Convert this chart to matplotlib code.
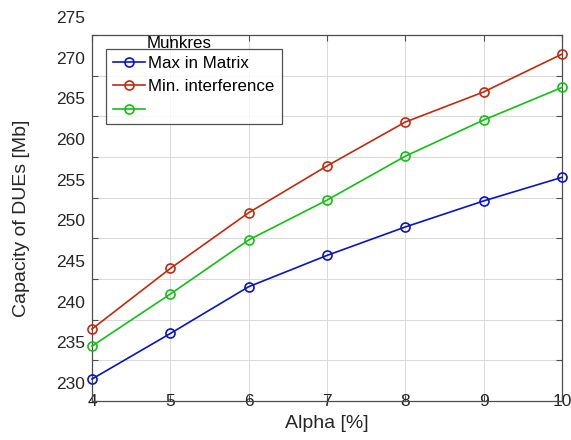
import matplotlib
matplotlib.use("Agg")
import matplotlib.pyplot as plt
from matplotlib.lines import Line2D
from matplotlib.transforms import ScaledTranslation

plt.rcParams['font.family'] = ['Liberation Sans', 'DejaVu Sans']

alpha = [4, 5, 6, 7, 8, 9, 10]
max_in_matrix = [232.7, 238.3, 244.05, 247.9, 251.4, 254.6, 257.5]
min_interference = [238.85, 246.3, 253.15, 258.9, 264.3, 268.0, 272.65]
third_series = [236.75, 243.15, 249.8, 254.7, 260.1, 264.55, 268.55]

x_ticks = [4, 5, 6, 7, 8, 9, 10]
y_ticks = [230, 235, 240, 245, 250, 255, 260, 265, 270, 275]
series_labels = ['Max in Matrix', 'Min. interference', ' ']
legend_title = 'Munkres'
colors = ['#0a14c0', '#c02a0e', '#14bf14']

fig = plt.figure(figsize=(5.71, 4.40), dpi=100)
ax = fig.add_axes([92/571, 1-401/440, 470/571, 366/440])

txt = '#262626'
for ys, c in zip([max_in_matrix, min_interference, third_series], colors):
    ax.plot(alpha, ys, color=c, lw=1.2, marker='o', ms=6.5,
            mfc='none', mec=c, mew=1.2, clip_on=False, zorder=3)

ax.set_xlim(4, 10)
ax.set_ylim(230, 275)
ax.set_xticks(x_ticks)
ax.set_yticks(y_ticks)
ax.grid(True, color='#d9d9d9', lw=0.7)
ax.set_axisbelow(True)
for s in ax.spines.values():
    s.set_color('#4d4d4d')
    s.set_linewidth(0.9)
ax.tick_params(direction='in', length=4, width=0.8, color='#4d4d4d',
               top=True, right=True, labelsize=12.5, labelcolor=txt)
ax.tick_params(axis='y', pad=5)
ax.tick_params(axis='x', pad=0)

fig.canvas.draw()
up = ScaledTranslation(0, 18/100, fig.dpi_scale_trans)
for lab in ax.get_yticklabels():
    lab.set_transform(lab.get_transform() + up)
for lab in ax.get_xticklabels():
    lab.set_verticalalignment('center')

ax.set_xlabel('Alpha [%]', fontsize=14, color=txt)
ax.set_ylabel('Capacity of DUEs [Mb]', fontsize=14, color=txt)
ax.yaxis.set_label_coords(-0.132, 0.5)
ax.xaxis.set_label_coords(0.5, -0.038)

handles = [Line2D([], [], color=c, lw=1.2, marker='o', ms=6.5, mfc='none', mec=c, mew=1.2)
           for c in colors]
leg = ax.legend(handles, series_labels, loc='upper left',
                bbox_to_anchor=(106/571, 1-49/440), bbox_transform=fig.transFigure,
                borderaxespad=0, fontsize=12.2, frameon=True, fancybox=False,
                handlelength=1.9, handletextpad=0.2, borderpad=0.4,
                labelspacing=0.5)
leg.get_frame().set_edgecolor('#262626')
leg.get_frame().set_linewidth(0.9)
for t in leg.get_texts():
    t.set_color('black')
fig.text(147/571, 1-44/440, legend_title, fontsize=12.2, color='black',
         ha='left', va='center', zorder=10)

fig.savefig('out.png', dpi=100)
